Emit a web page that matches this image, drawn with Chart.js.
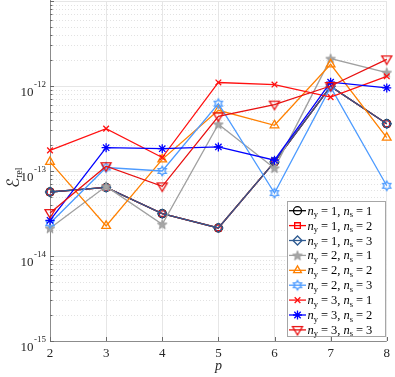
<!DOCTYPE html>
<html>
<head>
<meta charset="utf-8">
<script src="https://cdn.jsdelivr.net/npm/chart.js@4.4.1/dist/chart.umd.min.js"></script>
<style>
  html, body { margin: 0; padding: 0; background: #fff; }
  #wrap { width: 395px; height: 377px; }
</style>
</head>
<body>
<div id="wrap"><canvas id="errChart" width="395" height="377"></canvas></div>
<script>
// polynomial degree p on the x axis
var pValues = [2, 3, 4, 5, 6, 7, 8];

// relative error, one array per (ny, ns) combination
var errNy1Ns1 = [5.66e-14, 6.4e-14, 3.15e-14, 2.14e-14, 1.28e-13, 9.9e-13, 3.6e-13];
var errNy1Ns2 = [5.66e-14, 6.4e-14, 3.15e-14, 2.14e-14, 1.28e-13, 9.9e-13, 3.6e-13];
var errNy1Ns3 = [5.66e-14, 6.4e-14, 3.15e-14, 2.14e-14, 1.28e-13, 9.9e-13, 3.6e-13];
var errNy2Ns1 = [2.12e-14, 6.6e-14, 2.36e-14, 3.55e-13, 1.08e-13, 2.1e-12, 1.44e-12];
var errNy2Ns2 = [1.28e-13, 2.26e-14, 1.37e-13, 5.18e-13, 3.45e-13, 1.8e-12, 2.47e-13];
var errNy2Ns3 = [2.43e-14, 1.10e-13, 1.0e-13, 6.2e-13, 5.5e-14, 9.7e-13, 6.7e-14];
var errNy3Ns1 = [1.75e-13, 3.15e-13, 1.44e-13, 1.10e-12, 1.04e-12, 7.4e-13, 1.3e-12];
var errNy3Ns2 = [2.63e-14, 1.88e-13, 1.83e-13, 1.92e-13, 1.34e-13, 1.11e-12, 9.5e-13];
var errNy3Ns3 = [3.2e-14, 1.14e-13, 6.6e-14, 4.4e-13, 6.04e-13, 1.0e-12, 2.06e-12];

var nyValues = [1, 1, 1, 2, 2, 2, 3, 3, 3];
var nsValues = [1, 2, 3, 1, 2, 3, 1, 2, 3];
var yDecades = [-15, -14, -13, -12, -11];
var yLabelDecades = [-15, -14, -13, -12];

var allErr = [errNy1Ns1, errNy1Ns2, errNy1Ns3, errNy2Ns1, errNy2Ns2, errNy2Ns3, errNy3Ns1, errNy3Ns2, errNy3Ns3];

// marker helpers
function markerCanvas(fn) {
  var c = document.createElement('canvas')
  c.width = 16; c.height = 16
  var g = c.getContext('2d')
  fn(g, 8, 8)
  return c
}
function starPath(g, cx, cy, n, ro, ri) {
  g.beginPath()
  for (var i = 0; i < 2 * n; i++) {
    var r = i % 2 == 0 ? ro : ri
    var a = -Math.PI / 2 + i * Math.PI / n
    var px = cx + r * Math.cos(a), py = cy + r * Math.sin(a)
    if (i == 0) g.moveTo(px, py); else g.lineTo(px, py)
  }
  g.closePath()
}
var pentagram = markerCanvas(function (g, cx, cy) {
  starPath(g, cx, cy + 0.5, 5, 5.0, 2.1)
  g.fillStyle = '#a6a6a6'; g.fill()
  g.strokeStyle = '#9a9a9a'; g.lineWidth = 1; g.stroke()
})
var hexagram = markerCanvas(function (g, cx, cy) {
  starPath(g, cx, cy, 6, 4.7, 2.7)
  g.strokeStyle = '#4d9bff'; g.lineWidth = 1.3; g.stroke()
})
var triDown = markerCanvas(function (g, cx, cy) {
  g.beginPath()
  g.moveTo(cx - 5, cy - 3.3); g.lineTo(cx + 5, cy - 3.3); g.lineTo(cx, cy + 5)
  g.closePath()
  g.strokeStyle = '#e81010'; g.lineWidth = 1.3; g.stroke()
})

var lineColors = ['#000000', '#ff0000', '#2f5b91', '#a0a0a0', '#ff8000', '#4d9bff', '#ff1010', '#0000ff', '#e81010'];
var markers = ['circle', 'rect', 'rectRot', pentagram, 'triangle', hexagram, 'crossRot', 'star', triDown];
var radii = [4, 4, 4.5, 6, 5, 6, 4, 4.5, 6];

var datasets = allErr.map(function (vals, i) {
  return {
    label: 'ny=' + nyValues[i] + ', ns=' + nsValues[i],
    data: pValues.map(function (p, k) { return { x: p, y: vals[k] } }),
    borderColor: lineColors[i],
    backgroundColor: 'rgba(0,0,0,0)',
    pointBorderColor: lineColors[i],
    pointBackgroundColor: 'rgba(0,0,0,0)',
    pointStyle: markers[i],
    pointRadius: radii[i],
    pointBorderWidth: 1.3,
    borderWidth: 1.3,
    tension: 0,
    clip: false,
    order: 9 - i
  }
})

var serif = '"Liberation Serif", "DejaVu Serif", serif'

var decorPlugin = {
  id: 'decor',
  beforeDatasetsDraw: function (chart) {
    var ctx = chart.ctx, a = chart.chartArea, ys = chart.scales.y, xs = chart.scales.x
    ctx.save()
    // minor dotted grid
    ctx.strokeStyle = '#e2e2e2'
    ctx.lineWidth = 1
    ctx.setLineDash([1, 2])
    yDecades.slice(0, -1).forEach(function (d) {
      for (var m = 2; m <= 9; m++) {
        var py = Math.round(ys.getPixelForValue(m * Math.pow(10, d))) + 0.5
        ctx.beginPath(); ctx.moveTo(a.left, py); ctx.lineTo(a.right, py); ctx.stroke()
      }
    })
    ctx.setLineDash([])
    // axes lines and inward ticks
    ctx.strokeStyle = '#8c8c8c'
    ctx.beginPath()
    ctx.moveTo(a.left + 0.5, 0); ctx.lineTo(a.left + 0.5, a.bottom + 0.5); ctx.lineTo(a.right, a.bottom + 0.5)
    ctx.stroke()
    ctx.strokeStyle = '#6a6a6a'
    yDecades.forEach(function (d, i) {
      var py = Math.round(ys.getPixelForValue(Math.pow(10, d))) + 0.5
      ctx.beginPath(); ctx.moveTo(a.left, py); ctx.lineTo(a.left + 4, py); ctx.stroke()
      if (i < yDecades.length - 1) {
        for (var m = 2; m <= 9; m++) {
          var q = Math.round(ys.getPixelForValue(m * Math.pow(10, d))) + 0.5
          ctx.beginPath(); ctx.moveTo(a.left, q); ctx.lineTo(a.left + 2.5, q); ctx.stroke()
        }
      }
    })
    pValues.forEach(function (p) {
      var px = Math.round(xs.getPixelForValue(p)) + 0.5
      ctx.beginPath(); ctx.moveTo(px, a.bottom); ctx.lineTo(px, a.bottom - 4); ctx.stroke()
    })
    ctx.restore()
  },
  afterDraw: function (chart) {
    var ctx = chart.ctx, a = chart.chartArea, ys = chart.scales.y
    ctx.save()
    ctx.fillStyle = '#262626'
    // y tick labels 10^d
    yLabelDecades.forEach(function (d) {
      var py = ys.getPixelForValue(Math.pow(10, d))
      ctx.font = '9px ' + serif
      ctx.textAlign = 'right'
      ctx.textBaseline = 'alphabetic'
      var expTxt = '-' + String(-d)
      ctx.fillText(expTxt, 46, py + 1)
      var w = ctx.measureText(expTxt).width
      ctx.font = '13px ' + serif
      ctx.fillText('10', 46 - w - 0.5, py + 9.5)
    })
    // x title
    ctx.textAlign = 'center'
    ctx.font = 'italic 14px ' + serif
    ctx.fillText('p', (a.left + a.right) / 2, 370)
    // y title
    ctx.save()
    ctx.translate(19, 180)
    ctx.rotate(-Math.PI / 2)
    ctx.textAlign = 'left'
    ctx.font = '17px "DejaVu Sans", "DejaVu Serif", sans-serif'
    ctx.fillText('\u2130', -8, 0)
    var ew = ctx.measureText('\u2130').width
    ctx.font = '9.5px ' + serif
    ctx.fillText('rel', -8 + ew, 3)
    ctx.restore()

    // legend box
    var lx = 287.5, ly = 201.5, lw = 98, lh = 135
    ctx.fillStyle = '#ffffff'
    ctx.fillRect(lx, ly, lw, lh)
    ctx.strokeStyle = '#a6a6a6'
    ctx.lineWidth = 1
    ctx.strokeRect(lx, ly, lw, lh)
    datasets.forEach(function (ds, i) {
      var cy = 210.7 + 14.9 * i
      ctx.strokeStyle = ds.borderColor
      ctx.lineWidth = 1.3
      ctx.beginPath(); ctx.moveTo(289, cy); ctx.lineTo(306, cy); ctx.stroke()
      ctx.fillStyle = 'rgba(0,0,0,0)'
      Chart.helpers.drawPoint(ctx, { pointStyle: ds.pointStyle, radius: Math.min(ds.pointRadius, 4.5), borderWidth: 1.3, rotation: 0 }, 297.5, cy)
      // text
      ctx.fillStyle = '#000000'
      ctx.textAlign = 'left'
      var x = 307.5, base = cy + 4
      function piece(t, font, dy) {
        ctx.font = font
        ctx.fillText(t, x, base + (dy || 0))
        x += ctx.measureText(t).width
      }
      var it = 'italic 12.5px ' + serif, rm = '12.5px ' + serif, sb = '8.5px ' + serif
      piece('n', it); piece('y', sb, 2.5); x += 3
      piece('=', rm); x += 3
      piece(nyValues[i] + ',', rm); x += 3
      piece('n', it); piece('s', sb, 2.5); x += 3
      piece('=', rm); x += 3
      piece(String(nsValues[i]), rm)
    })
    ctx.restore()
  }
}

new Chart('errChart', {
  type: 'line',
  data: { datasets: datasets },
  options: {
    responsive: false,
    animation: false,
    devicePixelRatio: 1,
    layout: { autoPadding: false, padding: { top: 1, right: 5, left: 0, bottom: 0 } },
    plugins: { legend: { display: false }, tooltip: { enabled: false } },
    scales: {
      x: {
        type: 'linear', min: 2, max: 8,
        ticks: { stepSize: 1, color: '#262626', font: { family: serif, size: 13 }, padding: 5 },
        grid: { color: '#e6e6e6', drawTicks: false },
        border: { display: false },
        afterFit: function (s) { s.height = 36 }
      },
      y: {
        type: 'logarithmic', min: 1e-15, max: 1e-11,
        ticks: { display: false },
        afterBuildTicks: function (s) {
          s.ticks = yDecades.map(function (d) { return { value: Math.pow(10, d) } })
        },
        grid: { color: '#e6e6e6', drawTicks: false },
        border: { display: false },
        afterFit: function (s) { s.width = 50 }
      }
    }
  },
  plugins: [decorPlugin]
});
</script>
</body>
</html>
